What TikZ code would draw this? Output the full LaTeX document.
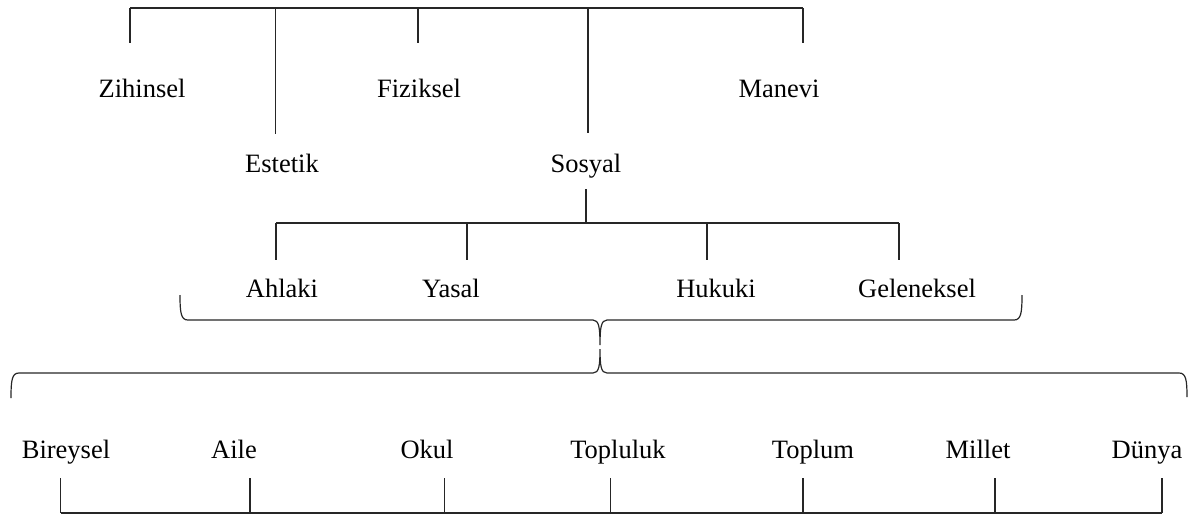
\documentclass[tikz,border=0pt]{standalone}
\usepackage{fontspec}
\setmainfont{Liberation Serif}
\begin{document}
\begin{tikzpicture}[x=1pt,y=-1pt,
  lbl/.style={anchor=base,inner sep=0pt,font=\fontsize{26.5}{30}\selectfont},
  bar/.style={line width=1.2pt,black!85}]
\useasboundingbox (0,0) rectangle (1188,516);
% top level labels
\node[lbl] (zih) at (142,98) {Zihinsel};
\node[lbl] (est) at (282,172) {Estetik};
\node[lbl] (fiz) at (419,98) {Fiziksel};
\node[lbl] (sos) at (586,172) {Sosyal};
\node[lbl] (man) at (779,98) {Manevi};
% top bar coordinates
\coordinate (t1) at (130,8);   \coordinate (t1e) at (130,43);
\coordinate (t2) at (275.5,8); \coordinate (t2e) at (275.5,134);
\coordinate (t3) at (418,8);   \coordinate (t3e) at (418,43);
\coordinate (t4) at (588,8);   \coordinate (t4e) at (588,133);
\coordinate (t5) at (803,8);   \coordinate (t5e) at (803,43);
\draw[bar] (t1) -- (t5);
\draw[bar] (t1) -- (t1e);
\draw[bar] (t2) -- (t2e);
\draw[bar] (t3) -- (t3e);
\draw[bar] (t4) -- (t4e);
\draw[bar] (t5) -- (t5e);
% second level
\node[lbl] (ahl) at (282,297) {Ahlaki};
\node[lbl] (yas) at (451,297) {Yasal};
\node[lbl] (huk) at (716,297) {Hukuki};
\node[lbl] (gel) at (917,297) {Geleneksel};
\coordinate (s0) at (586,189); \coordinate (s0e) at (586,223);
\coordinate (s1) at (276,223); \coordinate (s1e) at (276,260);
\coordinate (s2) at (467,223); \coordinate (s2e) at (467,260);
\coordinate (s3) at (707,223); \coordinate (s3e) at (707,260);
\coordinate (s4) at (899,223); \coordinate (s4e) at (899,260);
\draw[bar] (s0) -- (s0e);
\draw[bar] (s1) -- (s4);
\draw[bar] (s1) -- (s1e);
\draw[bar] (s2) -- (s2e);
\draw[bar] (s3) -- (s3e);
\draw[bar] (s4) -- (s4e);
% braces
\coordinate (b1l) at (180,295);
\coordinate (b1m) at (600,345);
\coordinate (b1r) at (1022,295);
\draw[bar] (b1l) .. controls (180,313) and (181,320) .. (188,320)
  -- (593,320) .. controls (599,320) and (600,328) .. (b1m)
  .. controls (600,328) and (601,320) .. (607,320)
  -- (1014,320) .. controls (1021,320) and (1022,313) .. (b1r);
\coordinate (b2l) at (11,398);
\coordinate (b2m) at (600,349);
\coordinate (b2r) at (1187,397);
\draw[bar] (b2l) .. controls (11,380) and (12,373) .. (19,373)
  -- (593,373) .. controls (599,373) and (600,366) .. (b2m)
  .. controls (600,366) and (601,373) .. (607,373)
  -- (1179,373) .. controls (1186,373) and (1187,380) .. (b2r);
% bottom labels
\node[lbl] (bir) at (66,458) {Bireysel};
\node[lbl] (ail) at (234,458) {Aile};
\node[lbl] (oku) at (427,458) {Okul};
\node[lbl] (top) at (618,458) {Topluluk};
\node[lbl] (tpm) at (813,458) {Toplum};
\node[lbl] (mil) at (978,458) {Millet};
\node[lbl] (dun) at (1147,458) {Dünya};
\coordinate (u1) at (60.6,513); \coordinate (u1e) at (60.6,478);
\coordinate (u2) at (250,513);  \coordinate (u2e) at (250,478);
\coordinate (u3) at (444.7,513);\coordinate (u3e) at (444.7,478);
\coordinate (u4) at (610.6,513);\coordinate (u4e) at (610.6,478);
\coordinate (u5) at (803,513);  \coordinate (u5e) at (803,478);
\coordinate (u6) at (995,513);  \coordinate (u6e) at (995,478);
\coordinate (u7) at (1162,513); \coordinate (u7e) at (1162,478);
\draw[bar] (u1) -- (u7);
\draw[bar] (u1) -- (u1e);
\draw[bar] (u2) -- (u2e);
\draw[bar] (u3) -- (u3e);
\draw[bar] (u4) -- (u4e);
\draw[bar] (u5) -- (u5e);
\draw[bar] (u6) -- (u6e);
\draw[bar] (u7) -- (u7e);
\end{tikzpicture}
\end{document}
